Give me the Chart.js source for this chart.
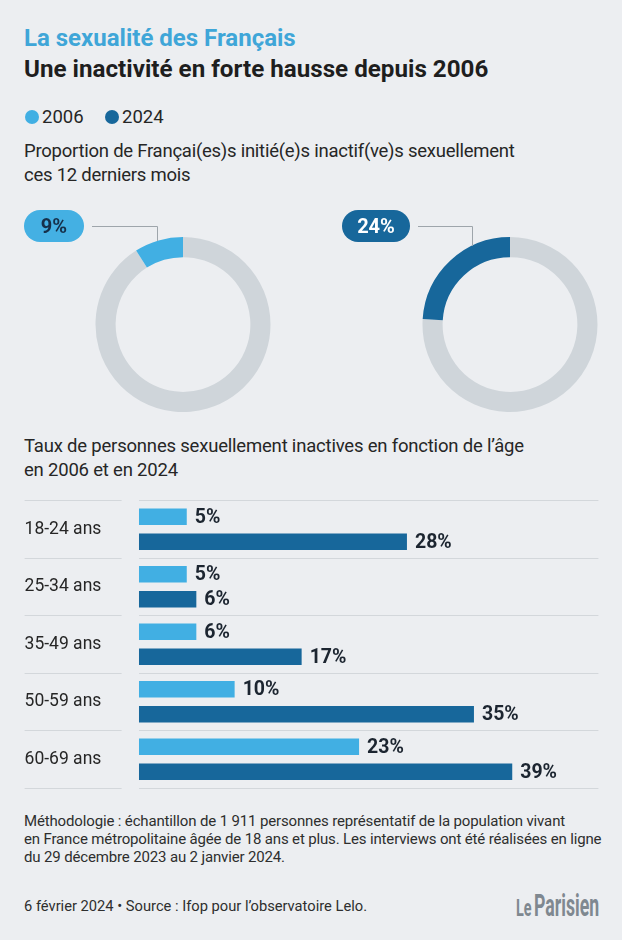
<!DOCTYPE html>
<html lang="fr">
<head>
<meta charset="utf-8">
<script src="https://cdn.jsdelivr.net/npm/chart.js@4.4.1/dist/chart.umd.min.js"></script>
<style>
  html, body { margin: 0; padding: 0; }
  body { width: 622px; height: 940px; background: #eceef1; position: relative; overflow: hidden;
         font-family: Roboto, "Noto Sans", sans-serif; color: #262626; }
  .t { position: absolute; white-space: nowrap; line-height: 1; }
  .dot { position: absolute; width: 14px; height: 14px; border-radius: 50%; }
  canvas { position: absolute; }
</style>
</head>
<body>
<div class="t" style="left:24px;top:25.5px;font-size:24px;font-weight:700;color:#3fa6d8;">La sexualité des Français</div>
<div class="t" style="left:24px;top:56.9px;font-size:24.2px;font-weight:700;color:#1e1e1e;">Une inactivité en forte hausse depuis 2006</div>

<span class="dot" style="left:25px;top:110px;background:#41afe3;"></span>
<div class="t" style="left:42px;top:108.4px;font-size:18.5px;">2006</div>
<span class="dot" style="left:105px;top:110px;background:#17679b;"></span>
<div class="t" style="left:122px;top:108.4px;font-size:18.5px;">2024</div>

<div class="t" style="left:24px;top:140.3px;font-size:18.5px;line-height:23.4px;letter-spacing:-0.25px;">Proportion de Françai(es)s initié(e)s inactif(ve)s sexuellement<br>ces 12 derniers mois</div>

<canvas id="ring2006" width="311" height="230" style="left:0;top:195px;"></canvas>
<canvas id="ring2024" width="311" height="230" style="left:311px;top:195px;"></canvas>

<div class="t" style="left:24px;top:435.3px;font-size:18.5px;line-height:23.4px;letter-spacing:-0.2px;">Taux de personnes sexuellement inactives en fonction de l’âge<br>en 2006 et en 2024</div>

<canvas id="ages" width="622" height="310" style="left:0;top:490px;"></canvas>

<div class="t" style="left:24px;top:811.7px;font-size:15px;line-height:18.3px;letter-spacing:-0.15px;color:#2e2e2e;">Méthodologie : échantillon de 1 911 personnes représentatif de la population vivant<br>en France métropolitaine âgée de 18 ans et plus. Les interviews ont été réalisées en ligne<br>du 29 décembre 2023 au 2 janvier 2024.</div>
<div class="t" style="left:24px;top:898.6px;font-size:14.7px;color:#2e2e2e;">6 février 2024 • Source : Ifop pour l’observatoire Lelo.</div>

<div class="t" style="left:516px;top:895.5px;font-size:24px;font-weight:700;color:#7f8890;transform:scaleX(0.6);transform-origin:left;">Le</div>
<div class="t" style="left:534px;top:889.6px;font-size:31px;font-weight:700;color:#7f8890;transform:scaleX(0.57);transform-origin:left;">Parisien</div>

<script>
// Proportion inactive (overall)
const years = ['2006', '2024'];
const inactiveShare = [9, 24];

// By age
const ageGroups = ['18-24 ans', '25-34 ans', '35-49 ans', '50-59 ans', '60-69 ans'];
const rate2006 = [5, 5, 6, 10, 23];
const rate2024 = [28, 6, 17, 35, 39];

const yearColors = ['#41afe3', '#17679b'];
const ringGray = '#cfd5da';

Chart.defaults.font.family = 'Roboto';

// pill label + leader line for the ring charts
const calloutPlugin = {
    id: 'callout',
    afterDraw(chart, args, o) {
        const arc = chart.getDatasetMeta(0).data[1];
        const { x: cx, y: cy, outerRadius: r } = arc.getProps(['x', 'y', 'outerRadius'], true);
        const ctx = chart.ctx;
        const lx = Math.round(cx + o.dx) + 0.5;
        const ly = Math.round(o.y + o.h / 2) + 0.5;
        ctx.save();
        ctx.strokeStyle = '#9ea5ab';
        ctx.lineWidth = 1;
        ctx.beginPath();
        ctx.moveTo(o.x + o.w + 8, ly);
        ctx.lineTo(lx, ly);
        ctx.lineTo(lx, cy - Math.sqrt(r * r - o.dx * o.dx));
        ctx.stroke();
        ctx.fillStyle = o.fill;
        ctx.beginPath();
        ctx.roundRect(o.x, o.y, o.w, o.h, o.h / 2);
        ctx.fill();
        ctx.fillStyle = o.color;
        ctx.font = 'bold 20px Roboto';
        ctx.textAlign = 'center';
        ctx.textBaseline = 'middle';
        ctx.fillText(o.text, o.x + o.w / 2, ly + 1);
        ctx.restore();
    }
};

function makeRing(id, i, padding, callout) {
    return new Chart(document.getElementById(id), {
        type: 'doughnut',
        data: {
            labels: ['Actifs', 'Inactifs ' + years[i]],
            datasets: [{
                data: [100 - inactiveShare[i], inactiveShare[i]],
                backgroundColor: [ringGray, yearColors[i]],
                borderWidth: 0
            }]
        },
        options: {
            responsive: false,
            animation: false,
            cutout: '77%',
            layout: { padding: padding },
            plugins: {
                legend: { display: false },
                tooltip: { enabled: false },
                callout: Object.assign({ text: inactiveShare[i] + '%' }, callout)
            }
        },
        plugins: [calloutPlugin]
    });
}

makeRing('ring2006', 0,
    { left: 95.5, right: 40.5, top: 42, bottom: 13 },
    { x: 24, y: 15, w: 60, h: 32, dx: -26, fill: '#44b0e3', color: '#16304a' });
makeRing('ring2024', 1,
    { left: 111.5, right: 24.5, top: 42, bottom: 13 },
    { x: 31, y: 15, w: 68, h: 32, dx: -38.5, fill: '#17679b', color: '#ffffff' });

// value labels at the end of bars
const valueLabels = {
    id: 'valueLabels',
    afterDatasetsDraw(chart) {
        const ctx = chart.ctx;
        ctx.save();
        ctx.font = 'bold 19.5px Roboto';
        ctx.fillStyle = '#1c2530';
        ctx.textBaseline = 'middle';
        ctx.textAlign = 'left';
        chart.data.datasets.forEach((ds, di) => {
            chart.getDatasetMeta(di).data.forEach((bar, i) => {
                ctx.fillText(ds.data[i] + '%', bar.x + 8, bar.y + 1);
            });
        });
        ctx.restore();
    }
};

const ageChart = new Chart(document.getElementById('ages'), {
    type: 'bar',
    data: {
        labels: ageGroups,
        datasets: [{
            label: years[0],
            data: rate2006,
            backgroundColor: yearColors[0],
            categoryPercentage: 0.868,
            barPercentage: 0.668
        }, {
            label: years[1],
            data: rate2024,
            backgroundColor: yearColors[1],
            categoryPercentage: 0.868,
            barPercentage: 0.668
        }]
    },
    options: {
        indexAxis: 'y',
        responsive: false,
        animation: false,
        layout: { padding: { left: 24.6, right: 23.6, top: 10, bottom: 12 } },
        scales: {
            x: { display: false, min: 0, max: 48 },
            y: {
                afterFit(scale) { scale.width = 114.3; },
                border: { display: false },
                grid: { color: '#d3d7db', lineWidth: 1, tickLength: 114.3, tickBorderDash: [97, 40], offset: true },
                ticks: { crossAlign: 'far', color: '#262626', font: { size: 17.5 }, padding: 0 }
            }
        },
        plugins: {
            legend: { display: false },
            tooltip: { enabled: false }
        }
    },
    plugins: [valueLabels]
});
</script>
</body>
</html>
